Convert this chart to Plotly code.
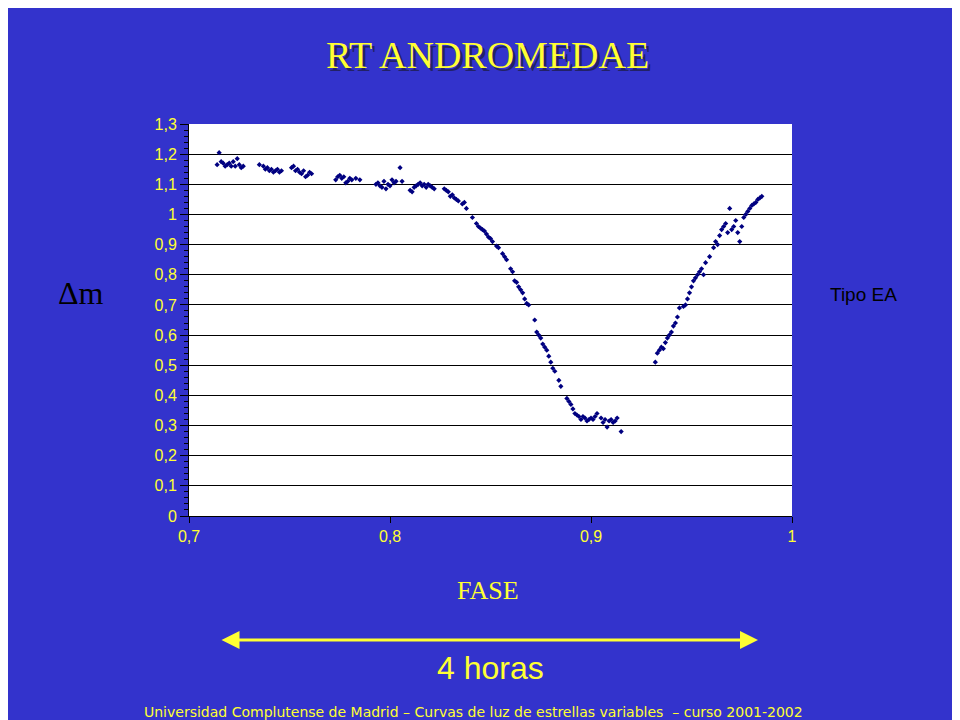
import plotly.graph_objects as go

fase = [0.715, 0.714, 0.716, 0.717, 0.718, 0.719, 0.720, 0.721, 0.722, 0.723, 0.724, 0.725, 0.726, 0.727,
        0.735, 0.737, 0.738, 0.739, 0.740, 0.741, 0.742, 0.743, 0.744, 0.745, 0.746,
        0.751, 0.752, 0.753, 0.754, 0.755, 0.756, 0.757, 0.758, 0.759, 0.760, 0.761,
        0.773, 0.774, 0.775, 0.776, 0.777, 0.778, 0.779, 0.780, 0.781, 0.783, 0.785,
        0.793, 0.794, 0.795, 0.796, 0.797, 0.798, 0.799, 0.800, 0.801, 0.802, 0.803, 0.805, 0.806,
        0.810, 0.811, 0.812, 0.813, 0.814, 0.815, 0.816, 0.817, 0.818, 0.819, 0.820, 0.821, 0.822,
        0.827, 0.828, 0.829, 0.830, 0.831, 0.832, 0.833, 0.834, 0.836, 0.837, 0.838,
        0.841, 0.843, 0.844, 0.845, 0.846, 0.847, 0.848, 0.849, 0.850, 0.851, 0.853, 0.854,
        0.856, 0.857, 0.858, 0.860, 0.861, 0.862, 0.863, 0.864, 0.865, 0.866, 0.867, 0.868, 0.869,
        0.872, 0.873, 0.874, 0.875, 0.876, 0.877, 0.878, 0.879, 0.880, 0.881, 0.882, 0.884, 0.885,
        0.888, 0.889, 0.890, 0.891, 0.892, 0.893, 0.894, 0.895, 0.896, 0.897, 0.898, 0.899, 0.900,
        0.901, 0.902, 0.903, 0.905, 0.906, 0.907, 0.908, 0.909, 0.910, 0.911, 0.912, 0.913, 0.915,
        0.932, 0.933, 0.934, 0.935, 0.936, 0.937, 0.938, 0.939, 0.940, 0.941, 0.942, 0.943, 0.944,
        0.946, 0.947, 0.948, 0.949, 0.950, 0.951, 0.952, 0.953, 0.954, 0.955, 0.956, 0.957, 0.959,
        0.961, 0.962, 0.963, 0.964, 0.965, 0.966, 0.967, 0.968, 0.969, 0.970, 0.971, 0.972, 0.973,
        0.974, 0.975, 0.976, 0.977, 0.978, 0.979, 0.980, 0.981, 0.982, 0.983, 0.984, 0.985]
dm = [1.205, 1.165, 1.175, 1.170, 1.160, 1.165, 1.170, 1.160, 1.175, 1.160, 1.185, 1.165, 1.155, 1.160,
      1.165, 1.160, 1.150, 1.155, 1.145, 1.150, 1.140, 1.145, 1.150, 1.140, 1.145,
      1.155, 1.160, 1.145, 1.150, 1.140, 1.135, 1.145, 1.125, 1.130, 1.140, 1.135,
      1.115, 1.125, 1.130, 1.120, 1.125, 1.105, 1.110, 1.120, 1.115, 1.120, 1.115,
      1.100, 1.105, 1.095, 1.090, 1.110, 1.085, 1.100, 1.095, 1.115, 1.105, 1.110, 1.155, 1.110,
      1.080, 1.075, 1.090, 1.095, 1.100, 1.105, 1.095, 1.100, 1.090, 1.100, 1.095, 1.090, 1.085,
      1.085, 1.080, 1.075, 1.060, 1.065, 1.055, 1.050, 1.045, 1.035, 1.040, 1.020,
      0.990, 0.970, 0.960, 0.955, 0.950, 0.945, 0.935, 0.925, 0.920, 0.910, 0.895, 0.890,
      0.870, 0.860, 0.850, 0.820, 0.810, 0.780, 0.775, 0.760, 0.750, 0.740, 0.720, 0.705, 0.700,
      0.650, 0.610, 0.600, 0.590, 0.570, 0.560, 0.550, 0.530, 0.510, 0.490, 0.480, 0.450, 0.430,
      0.390, 0.380, 0.370, 0.355, 0.340, 0.335, 0.330, 0.320, 0.330, 0.325, 0.315, 0.320, 0.325,
      0.320, 0.330, 0.340, 0.325, 0.310, 0.320, 0.295, 0.315, 0.320, 0.310, 0.315, 0.325, 0.280,
      0.510, 0.540, 0.550, 0.560, 0.555, 0.575, 0.590, 0.600, 0.610, 0.630, 0.640, 0.660, 0.690,
      0.695, 0.700, 0.720, 0.740, 0.760, 0.780, 0.790, 0.800, 0.810, 0.820, 0.800, 0.840, 0.860,
      0.890, 0.910, 0.900, 0.930, 0.950, 0.960, 0.970, 0.940, 1.020, 0.950, 0.960, 0.980, 0.940,
      0.910, 0.960, 0.990, 1.000, 1.010, 1.020, 1.030, 1.035, 1.040, 1.050, 1.055, 1.060, 1.065]

y_ticks = [i / 10 for i in range(14)]
x_ticks = [0.7, 0.8, 0.9, 1.0]

BG = "#3333CC"
YEL = "#FFFF33"

fig = go.Figure(go.Scatter(x=fase, y=dm, mode="markers",
                           marker=dict(symbol="diamond", size=4, color="#000080")))

fig.update_layout(
    width=960, height=720, paper_bgcolor=BG, plot_bgcolor="white",
    margin=dict(l=181, r=176, t=116, b=212), showlegend=False,
    separators=",.",
    xaxis=dict(range=[0.7, 1.0], tickvals=x_ticks, ticks="outside", ticklen=6, tickcolor="black",
               showline=True, linecolor="black", showgrid=False, zeroline=False,
               tickfont=dict(family="Liberation Sans", size=16, color=YEL)),
    yaxis=dict(range=[0, 1.3], tickvals=y_ticks, ticks="outside", ticklen=8, tickcolor="black",
               showline=True, linecolor="black", showgrid=True, gridcolor="black", gridwidth=1,
               zeroline=False, tickfont=dict(family="Liberation Sans", size=16, color=YEL),
               minor=dict(dtick=0.02, ticks="outside", ticklen=4, tickcolor="black", showgrid=False)),
)

ann = []
ann.append(dict(x=482, y=50, text="RT ANDROMEDAE", font=dict(family="Liberation Serif", size=38, color="#222266")))
ann.append(dict(x=479, y=47, text="RT ANDROMEDAE", font=dict(family="Liberation Serif", size=38, color=YEL)))
ann.append(dict(x=73, y=285, text="Δm", font=dict(family="Liberation Serif", size=32, color="black")))
ann.append(dict(x=855, y=286, text="Tipo EA", font=dict(family="Liberation Sans", size=19, color="black")))
ann.append(dict(x=480, y=582, text="FASE", font=dict(family="Liberation Serif", size=26, color=YEL)))
ann.append(dict(x=482, y=660, text="4 horas", font=dict(family="Liberation Sans", size=32, color=YEL)))
ann.append(dict(x=465, y=704, text="Universidad Complutense de Madrid – Curvas de luz de estrellas variables  – curso 2001-2002",
                font=dict(family="DejaVu Sans", size=14, color=YEL)))
for a in ann:
    a.update(xref="paper", yref="paper", showarrow=False, xanchor="center", yanchor="middle")
    a["x"] = (a["x"] - 181) / (784 - 181)
    a["y"] = (508 - a["y"]) / (508 - 116)
fig.update_layout(annotations=ann)

fig.add_annotation(xref="paper", yref="paper", x=(750 - 181) / 603, y=(508 - 632) / 392,
                   ax=-538, ay=0, text="", showarrow=True, arrowside="end+start",
                   arrowhead=2, startarrowhead=2, arrowsize=1.2, startarrowsize=1.2,
                   arrowwidth=3, arrowcolor=YEL)

fig.write_html("out.html")
